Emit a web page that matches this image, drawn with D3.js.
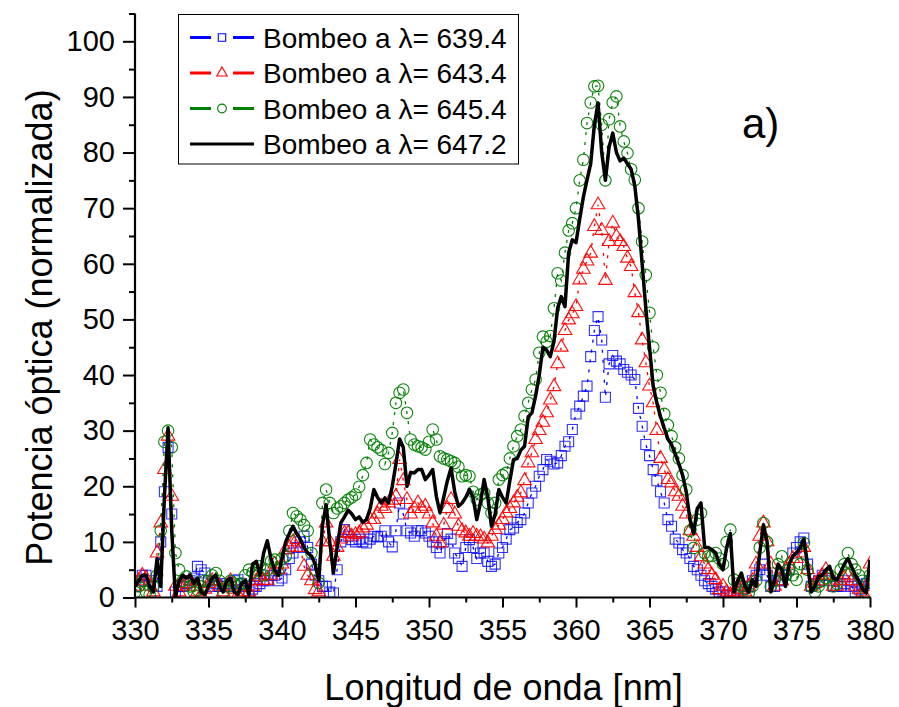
<!DOCTYPE html>
<html><head><meta charset="utf-8">
<script src="https://cdn.jsdelivr.net/npm/d3@7"></script>
<style>body{margin:0;background:#fff}svg{display:block}</style>
</head><body>
<svg id="chart" width="899" height="707"></svg>
<script>
// Wavelength grid (nm)
const wavelength = [
330,330.25,330.5,330.75,331,331.25,331.5,331.75,332,332.25,332.5,332.75,333,333.25,333.5,333.75,334,334.25,334.5,334.75,
335,335.25,335.5,335.75,336,336.25,336.5,336.75,337,337.25,337.5,337.75,338,338.25,338.5,338.75,339,339.25,339.5,339.75,
340,340.25,340.5,340.75,341,341.25,341.5,341.75,342,342.25,342.5,342.75,343,343.25,343.5,343.75,344,344.25,344.5,344.75,
345,345.25,345.5,345.75,346,346.25,346.5,346.75,347,347.25,347.5,347.75,348,348.25,348.5,348.75,349,349.25,349.5,349.75,
350,350.25,350.5,350.75,351,351.25,351.5,351.75,352,352.25,352.5,352.75,353,353.25,353.5,353.75,354,354.25,354.5,354.75,
355,355.25,355.5,355.75,356,356.25,356.5,356.75,357,357.25,357.5,357.75,358,358.25,358.5,358.75,359,359.25,359.5,359.75,
360,360.25,360.5,360.75,361,361.25,361.5,361.75,362,362.25,362.5,362.75,363,363.25,363.5,363.75,364,364.25,364.5,364.75,
365,365.25,365.5,365.75,366,366.25,366.5,366.75,367,367.25,367.5,367.75,368,368.25,368.5,368.75,369,369.25,369.5,369.75,
370,370.25,370.5,370.75,371,371.25,371.5,371.75,372,372.25,372.5,372.75,373,373.25,373.5,373.75,374,374.25,374.5,374.75,
375,375.25,375.5,375.75,376,376.25,376.5,376.75,377,377.25,377.5,377.75,378,378.25,378.5,378.75,379,379.25,379.5,379.75,
380];

// Bombeo a λ = 639.4 (blue squares)
const pump6394 = [
2,3,4,4, 3,2,2,10, 19,27,15,1, 2,2,2.5,3, 3.5,5.6,5,4.4,
3,2,2.5,2, 2,2.5,2,3, 3.2,2.5,2,1, 1.5,2,2.5,3, 3,4,4,3,
3.5,5,7,8, 9,10,11,9, 6,4,3,2, 2,1,0.8,5, 10,12.2,11,10.4,
10,10.5,10,9.8, 10.5,11,10.9,11, 12,10,9.1,12, 17,15,12,11.6, 11,12,12,11.6,
11,10,9,8, 10,11.5,10.5,8, 7,5.6,9,10.4, 9,7,8,8, 6.5,5.6,6,8,
9,10.5,12.2,12.5, 13.5,14,15.2,17, 18.8,20,21.8,23, 24.8,24.5,24,24.2, 25.5,27.2,28,30.2,
33,34.4,36.2,38, 43.3,48,50.5,46.3, 36,42,43.5,42.5, 42,41,40.5,40, 39.2,34,30.8,27.5,
25.5,23,21,19, 17,14,12.8,10.5, 9.8,8.6,8,7, 5.6,5,4,3, 2.5,2,1.5,1,
1,0.5,0.3,0.5, 1,1.5,2,2, 3,4,5,6, 4,2,2,3, 3,4,5,8,
9,10,10.7,6, 2,2.5,3,4, 4,3,2,2, 2,2.5,3,2, 1,1.5,2,2.5,
3];

// Bombeo a λ = 643.4 (red triangles)
const pump6434 = [
2,3,4,3.5, 2,1,8,13.4, 23,29,18.2,2, 1,2,2.5,3, 2,1,0.5,1.5,
2.5,3,3,2, 1,2,3,1.5, 0.5,1,2,1, 2,3,3.8,3, 3.1,4,6,5,
6,8.6,9,10, 10.4,9,5.6,4, 3,1.4,1,10, 13.4,10,7.4,9, 10.5,11.6,11.6,11,
11.3,11.6,12.5,13, 14,14,15,16.4, 16,17,17.5,18.2, 24.8,21,17.6,15, 16,17,16,16.4,
15,13.4,11,9.8, 13,16,17.6,15, 12.8,12,11.6,11, 11.5,11,10.9,10.5, 9.8,11,12.2,13,
14,15.2,16,17, 18,18.8,21,24.2, 26,28.4,30,31.5, 33.2,35.5,37.9,42, 45,48,49.9,51,
52.3,57.1,59,60.5, 61.9,66.7,70.6,66, 57,64,67.3,64.9, 64,63.1,61,59.5, 54.8,51.2,46.3,42.2,
38,35,30,25, 23,21.2,20.6,19, 18.2,16.4,15,12, 11,9,7.3,6, 5,4,3.2,1.4,
2,1,0.5,1, 2,1.5,1,2, 3,6,11,13.4, 10,6,2,3, 3,5,6,7,
7,8,9,5, 2,2.5,3,4, 5,4,2,2, 3,3.5,4,3, 2,1.5,1,2,
6];

// Bombeo a λ = 645.4 (green circles)
const pump6454 = [
1,2,3,1, 0.5,2,4,12, 28,30,27,8, 5,3,3.8,2, 1,1.4,2,3,
3,4,4.4,3, 1,2,3,2.5, 2,2.5,4,5, 4.5,5,5.6,4, 5,6.5,6.8,5,
7,7.4,12,15.2, 14.6,14,13,12, 8,5,2.6,17, 19.4,17,15.2,16, 16.4,17,17.6,18,
18.5,19.9,22,24.2, 28.4,27.5,27,26.5, 24,26,29.6,35, 36.8,37.4,33.2,28.4, 27.5,27.2,27,26.6,
28,30.2,28.4,25.4, 25,24.8,24.5,24.2, 23.5,21.8,22,21.8, 19,17.6,18.5,18.8, 17,15.2,17,21.2,
22,22.4,25,27.2, 29,30.2,32.6,35, 37.4,39.2,44,46.9, 46,47,52,58.3, 57,62,66,67.3,
70,75,78.7,85.3, 89,91.9,92,85, 75,86,89,90.1, 84.7,82,79.9,77, 75.1,70,64,58,
51.2,45,40,36.8, 33,31,29,27, 25,22,19.4,12, 8.9,14,15.2,8, 7.4,7.5,8,7,
6,10,12.2,3.2, 2.5,2,1.5,0.8, 2,3,9,13.4, 10,2,3,6, 7.4,4,5,4,
3.2,6,9.8,5, 2,1,2,3, 3.5,4,2,2.5, 5,6,8,6, 5,4,3,1,
4];

// Bombeo a λ = 647.2 (black line)
const pump6472 = [
2,3,4,4, 2,1,7,2, 18,30.5,12,0, 3,4,3.5,4, 2.5,3.5,1,0.5,
2,3.5,4,2, 1,3,3.5,1, 0.5,2.5,3,0.5, 6,6.5,4,8, 10.2,7,5,4,
7,10,11.5,12.8, 11.5,10.5,9,8, 7.5,6,3,13, 16.7,10,4.4,9, 13.4,14.5,15.7,15,
14,14.5,13.5,14, 16,19.4,18,17, 17.9,17,20,24, 28.5,27,20,22.5, 22.4,23,23,21.2,
22,23,18.2,15.2, 18,21,23.3,19, 16.4,17,18,19.4, 18,14,17,21.2, 18,12.8,15,19.4,
18,17,21,24.8, 25,26.5,27.2,32.5, 33.2,36.2,40,45, 44.5,43.3,46,52, 54.1,52.3,62,64.3,
63.8,68,72,75.1, 78,85,88.9,80, 75,81,83.5,80, 78.5,79,78,77, 74,68,60,52,
45,38,35,32.5, 30.5,28.5,27.5,25.8, 24,22,19,14, 11.5,16,17,9, 9,8.6,8,6,
5,9,11.5,1, 3,4.4,2,1, 3.2,2,8,13.1, 10,1,3,6, 5,2,6,7.5,
8,9,10.5,6, 1,2,3.8,4, 5,5.6,3.5,3.2, 4.5,6,7,5.5, 4,3,1.5,0.8,
6.8];

const xTicks = [330,335,340,345,350,355,360,365,370,375,380];
const yTicks = [0,10,20,30,40,50,60,70,80,90,100];
const legendLabels = ["Bombeo a λ= 639.4","Bombeo a λ= 643.4","Bombeo a λ= 645.4","Bombeo a λ= 647.2"];
const xTitle = "Longitud de onda [nm]";
const yTitle = "Potencia óptica (normalizada)";
const panelLabel = "a)";

const FONT = "'Liberation Sans', Arial, Helvetica, sans-serif";
const svg = d3.select("#chart");
const L = 135, R = 870, T = 13.5, B = 597.5;
const x = d3.scaleLinear().domain([330, 380]).range([L, R]);
const y = d3.scaleLinear().domain([0, 105]).range([B, T]);

svg.append("rect").attr("width", 899).attr("height", 707).attr("fill", "#fff");
svg.append("defs").append("clipPath").attr("id", "clip")
  .append("rect").attr("x", L).attr("y", T).attr("width", R - L).attr("height", B - T + 0.5);

const plot = svg.append("g").attr("clip-path", "url(#clip)");

const series = [
  {vals: pump6394, color: "#0000ff", sym: d3.symbolSquare, size: 100},
  {vals: pump6434, color: "#ff0000", sym: d3.symbolTriangle, size: 80},
  {vals: pump6454, color: "#008000", sym: d3.symbolCircle, size: 105}
];

const line = vals => d3.line().x((d, i) => x(wavelength[i])).y(d => y(d))(vals);

series.forEach(s => {
  plot.append("path").attr("d", line(s.vals)).attr("fill", "none")
    .attr("stroke", s.color).attr("stroke-width", 1.3).attr("stroke-dasharray", "3,7");
  const sym = d3.symbol().type(s.sym).size(s.size)();
  plot.append("g").selectAll("path").data(s.vals).join("path")
    .attr("d", sym)
    .attr("transform", (d, i) => `translate(${x(wavelength[i])},${y(d)})`)
    .attr("fill", "none").attr("stroke", s.color).attr("stroke-width", 1.1)
    .attr("stroke-opacity", s.color === "#0000ff" ? 0.8 : 0.95);
});

plot.append("path").attr("d", line(pump6472)).attr("fill", "none")
  .attr("stroke", "#000").attr("stroke-width", 3.5).attr("stroke-linejoin", "round");

// x axis
const xAxis = d3.axisBottom(x).tickValues(xTicks).tickSize(10).tickPadding(12).tickFormat(d3.format("d"));
const gx = svg.append("g").attr("transform", `translate(0,${B})`).call(xAxis);
gx.select(".domain").remove();
gx.selectAll(".tick line").attr("stroke", "#000").attr("stroke-width", 2);
gx.selectAll(".tick text").attr("font-family", FONT).attr("font-size", 29).attr("fill", "#000");
const xMinor = d3.axisBottom(x).tickValues(xTicks.slice(0, -1).map(v => v + 2.5)).tickSize(5).tickFormat("");
const gxm = svg.append("g").attr("transform", `translate(0,${B})`).call(xMinor);
gxm.select(".domain").remove();
gxm.selectAll(".tick line").attr("stroke", "#000").attr("stroke-width", 2);

// y axis
const yAxis = d3.axisLeft(y).tickValues(yTicks).tickSize(12).tickPadding(8).tickFormat(d3.format("d"));
const gy = svg.append("g").attr("transform", `translate(${L},0)`).call(yAxis);
gy.select(".domain").remove();
gy.selectAll(".tick line").attr("stroke", "#000").attr("stroke-width", 2);
gy.selectAll(".tick text").attr("font-family", FONT).attr("font-size", 29).attr("fill", "#000");
const yMinor = d3.axisLeft(y).tickValues(yTicks.map(v => v + 5)).tickSize(6).tickFormat("");
const gym = svg.append("g").attr("transform", `translate(${L},0)`).call(yMinor);
gym.select(".domain").remove();
gym.selectAll(".tick line").attr("stroke", "#000").attr("stroke-width", 2);

svg.append("line").attr("x1", L).attr("x2", L).attr("y1", T).attr("y2", B + 1)
  .attr("stroke", "#000").attr("stroke-width", 2.2);
svg.append("line").attr("x1", L - 1).attr("x2", R + 1).attr("y1", B).attr("y2", B)
  .attr("stroke", "#000").attr("stroke-width", 2.2);

// Titles
svg.append("text").attr("x", (L + R) / 2 + 1).attr("y", 700).attr("text-anchor", "middle")
  .attr("font-family", FONT).attr("font-size", 36).text(xTitle);
svg.append("text").attr("transform", `translate(52,${(T + B) / 2 + 22}) rotate(-90)`)
  .attr("text-anchor", "middle").attr("font-family", FONT).attr("font-size", 36).text(yTitle);
svg.append("text").attr("x", 742).attr("y", 138).attr("font-family", FONT)
  .attr("font-size", 42).text(panelLabel);

// Legend
const lg = svg.append("g");
lg.append("rect").attr("x", 178.5).attr("y", 14.5).attr("width", 340).attr("height", 149.5)
  .attr("fill", "#fff").attr("stroke", "#000").attr("stroke-width", 1);
const legColors = ["#0000ff", "#ff0000", "#008000", "#000"];
const legSyms = [d3.symbolSquare, d3.symbolTriangle, d3.symbolCircle, null];
const legSizes = [55, 48, 60, 0];
legendLabels.forEach((lab, i) => {
  const yy = [37.5, 73, 108.5, 144][i];
  if (legSyms[i]) {
    lg.append("line").attr("x1", 190).attr("x2", 211).attr("y1", yy).attr("y2", yy)
      .attr("stroke", legColors[i]).attr("stroke-width", 3);
    lg.append("line").attr("x1", 233).attr("x2", 254).attr("y1", yy).attr("y2", yy)
      .attr("stroke", legColors[i]).attr("stroke-width", 3);
    lg.append("path").attr("d", d3.symbol().type(legSyms[i]).size(legSizes[i])())
      .attr("transform", `translate(222,${yy})`).attr("fill", "none")
      .attr("stroke", legColors[i]).attr("stroke-width", 1.1);
  } else {
    lg.append("line").attr("x1", 190).attr("x2", 254).attr("y1", yy).attr("y2", yy)
      .attr("stroke", "#000").attr("stroke-width", 3);
  }
  lg.append("text").attr("x", 263).attr("y", yy + 10).attr("font-family", FONT)
    .attr("font-size", 28).text(lab);
});
</script>
</body></html>
